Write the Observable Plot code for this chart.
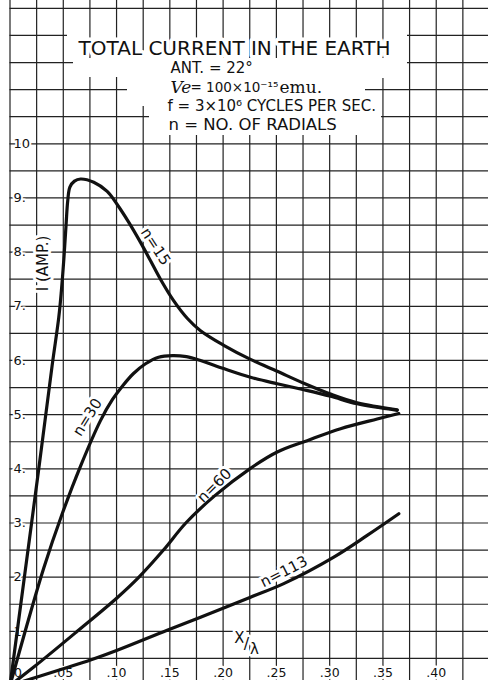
<!DOCTYPE html>
<html>
<head>
<meta charset="utf-8">
<script src="https://cdn.jsdelivr.net/npm/d3@7"></script>
<script src="https://cdn.jsdelivr.net/npm/@observablehq/plot@0.6"></script>
<style>
  html, body { margin: 0; padding: 0; background: #fff; }
  #chart svg { display: block; }
  #chart svg g[stroke="white"] { paint-order: stroke; stroke-linejoin: round; }
</style>
</head>
<body>
<div id="chart"></div>
<script>
// Total current in the earth (amperes) against distance from the antenna in wavelengths (x/λ)
// for ground systems with different numbers of buried radials.
const radialCounts = [15, 30, 60, 113];

const xN15 = [0, 0.0135, 0.027, 0.0395, 0.0458, 0.0482, 0.0505, 0.0526, 0.0542, 0.0562, 0.0605, 0.0662, 0.0786, 0.0912, 0.1006, 0.1115, 0.1225, 0.1319, 0.1412, 0.1537, 0.1663, 0.1788, 0.2006, 0.2257, 0.2508, 0.2757, 0.3008, 0.3258, 0.3634];
const iN15 = [0, 2.00, 4.00, 5.90, 6.80, 7.28, 7.86, 8.50, 8.95, 9.20, 9.31, 9.35, 9.29, 9.12, 8.88, 8.55, 8.18, 7.84, 7.50, 7.10, 6.78, 6.55, 6.28, 6.02, 5.80, 5.58, 5.38, 5.22, 5.09];

const xN30 = [0, 0.0145, 0.0317, 0.049, 0.0662, 0.0849, 0.0962, 0.1056, 0.1159, 0.1272, 0.1394, 0.1525, 0.1656, 0.1788, 0.2006, 0.2257, 0.2508, 0.2757, 0.3008, 0.3258, 0.3634];
const iN30 = [0, 1.02, 2.17, 3.17, 4.05, 4.89, 5.28, 5.53, 5.76, 5.94, 6.06, 6.09, 6.07, 6.00, 5.85, 5.69, 5.57, 5.46, 5.34, 5.20, 5.08];

const xN60 = [0, 0.0223, 0.0631, 0.1006, 0.121, 0.144, 0.165, 0.192, 0.225, 0.2508, 0.2789, 0.3102, 0.3446, 0.3649];
const iN60 = [0, 0.34, 1.00, 1.62, 2.00, 2.50, 3.00, 3.50, 4.00, 4.31, 4.52, 4.74, 4.92, 5.02];

const xN113 = [0, 0.05, 0.0755, 0.1006, 0.1475, 0.1788, 0.2257, 0.2569, 0.3039, 0.3352, 0.3649];
const iN113 = [0, 0.31, 0.47, 0.65, 1.02, 1.26, 1.63, 1.88, 2.37, 2.77, 3.17];

// Where each curve is named, in chart units
const curveLabelText = ["n=15", "n=30", "n=60", "n=113"];
const curveLabelX = [0.1366, 0.0727, 0.1919, 0.2571];
const curveLabelI = [8.10, 4.95, 3.69, 2.10];

// Axis tick labels
const xTickValues = [0, 0.05, 0.10, 0.15, 0.20, 0.25, 0.30, 0.35, 0.40];
const xTickLabels = ["0", ".05", ".10", ".15", ".20", ".25", ".30", ".35", ".40"];
const yTickValues = [1, 2, 3, 4, 5, 6, 7, 8, 9, 10];
const yTickLabels = ["1.", "2.", "3.", "4.", "5.", "6.", "7.", "8.", "9.", "10"];

// Long-format table for the line mark
const seriesX = [xN15, xN30, xN60, xN113];
const seriesI = [iN15, iN30, iN60, iN113];
const curves = radialCounts.flatMap((n, s) =>
  seriesX[s].map((x, k) => ({n, x, current: seriesI[s][k]}))
);
const labelAngle = {"n=15": 57, "n=30": -58, "n=60": -45, "n=113": -27};
const curveLabels = curveLabelText.map((text, k) => ({
  text, x: curveLabelX[k], current: curveLabelI[k], angle: labelAngle[text]
}));
const xTicks = xTickValues.map((x, k) => ({x, label: xTickLabels[k]}));
const yTicks = yTickValues.map((v, k) => ({v, label: yTickLabels[k]}));

// Graph-paper rulings: every 0.025 in x/λ, every 0.5 A in current
const paperX = d3.range(19).map(k => k * 0.025);
const paperI = d3.range(26).map(k => k * 0.5);

const ink = "#111";
const paperInk = "#222";
const sans = "DejaVu Sans";
const serif = "DejaVu Serif";

// White cut-outs of the ruling behind the legend block (pixel layout)
const titleStrip = [[67, 30], [407, 30], [407, 40], [67, 40]];
const legendPanel = [[73, 58], [407, 58], [407, 66], [386, 66], [386, 78], [365, 78], [365, 94],
  [381, 94], [381, 121], [359, 121], [359, 135], [149, 135], [149, 106], [127, 106], [127, 77], [73, 77]];
const cutout = (pts) => () =>
  d3.create("svg:polygon")
    .attr("points", pts.map(p => p.join(",")).join(" "))
    .attr("fill", "white")
    .node();

const halo = (w) => ({stroke: "white", strokeWidth: w, paintOrder: "stroke"});
const note = (text, dx, dy, opts = {}) =>
  Plot.text([text], {
    text: d => d, frameAnchor: "top-left", dx, dy, textAnchor: "start", lineAnchor: "middle",
    fill: ink, fontFamily: sans, fontSize: 15, ...opts
  });

const chart = Plot.plot({
  width: 488,
  height: 680,
  margin: 0,
  style: {background: "white"},
  x: {domain: [0, 0.45], range: [9.5, 489], axis: null},
  y: {domain: [0, 12.645], range: [685, 0], axis: null},
  marks: [
    // horizontal rulings
    Plot.ruleY(paperI, {y: d => d, x1: 0, x2: 0.45, stroke: paperInk, strokeWidth: 1.2}),
    cutout(titleStrip),
    // vertical rulings
    Plot.ruleX(paperX, {x: d => d, stroke: paperInk, strokeWidth: 1.2}),
    cutout(legendPanel),

    // legend block
    note("TOTAL CURRENT IN THE EARTH", 234, 48.5, {textAnchor: "middle", fontSize: 20, ...halo(7)}),
    note("ANT. = 22°", 170, 68, {fontSize: 15}),
    note("Ve", 170, 87, {fontFamily: serif, fontStyle: "italic", fontSize: 17}),
    note("= 100×10⁻¹⁵", 190, 87, {fontSize: 13.5}),
    note("emu.", 279, 87.5, {fontFamily: serif, fontSize: 17}),
    note("f = 3×10⁶ CYCLES PER SEC.", 167, 105.5, {fontSize: 15}),
    note("n = NO. OF RADIALS", 168, 124.5, {fontSize: 16.5}),

    // tick labels
    Plot.text(yTicks, {x: 0, y: "v", text: "label", dx: 3.5, textAnchor: "start",
      fill: ink, fontFamily: sans, fontSize: 13, ...halo(4)}),
    Plot.text(xTicks.filter(d => d.x > 0), {x: "x", y: 0, text: "label", dy: -12.5,
      textAnchor: "middle", fill: ink, fontFamily: sans, fontSize: 12.5, ...halo(5)}),
    Plot.text(xTicks.filter(d => d.x === 0), {x: "x", y: 0, text: "label", dy: -12.5, dx: 4,
      textAnchor: "start", fill: ink, fontFamily: sans, fontSize: 12.5, ...halo(3)}),

    // axis titles
    note("I (AMP.)", 43, 263, {rotate: -90, textAnchor: "middle", fontSize: 15, ...halo(6)}),
    note("X", 239, 638, {textAnchor: "middle", fontSize: 15, ...halo(5)}),
    note("/", 246, 643, {textAnchor: "middle", fontSize: 16, ...halo(5)}),
    note("λ", 254, 649, {textAnchor: "middle", fontSize: 15, ...halo(5)}),

    // curve names
    Plot.text(curveLabels, {x: "x", y: "current", text: "text", rotate: "angle",
      fill: ink, fontFamily: sans, fontSize: 15, ...halo(6)}),

    // the curves
    Plot.line(curves, {x: "x", y: "current", z: "n", curve: "catmull-rom",
      stroke: ink, strokeWidth: 3.2, strokeLinecap: "round", strokeLinejoin: "round"})
  ]
});

document.getElementById("chart").append(chart);
</script>
</body>
</html>
